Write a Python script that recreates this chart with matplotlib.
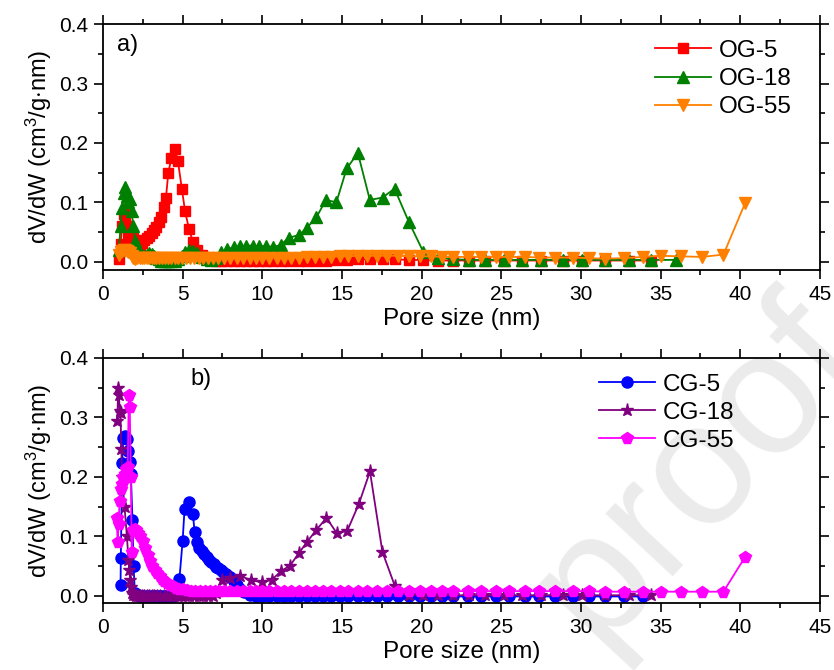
import matplotlib
matplotlib.use("Agg")
import matplotlib.pyplot as plt
from matplotlib.ticker import MultipleLocator

plt.rcParams['font.family'] = ['Liberation Sans', 'DejaVu Sans']
plt.rcParams['mathtext.fontset'] = 'custom'
plt.rcParams['mathtext.rm'] = 'Liberation Sans'
plt.rcParams['mathtext.it'] = 'Liberation Sans'

# pore size grid shared by OG-5 and OG-18 (nm)
og_size = [1.0, 1.1, 1.2, 1.3, 1.4, 1.5, 1.6, 1.7, 1.8, 1.9,
           2.0, 2.15, 2.3, 2.45, 2.6, 2.75, 2.9, 3.05, 3.2, 3.35,
           3.5, 3.65, 3.8, 3.95, 4.1, 4.3, 4.5, 4.7, 4.95, 5.15,
           5.4, 5.65, 5.9, 6.2, 6.5, 6.8, 7.1, 7.4, 7.8, 8.2,
           8.6, 9.0, 9.4, 9.8, 10.25, 10.7, 11.15, 11.65, 12.3, 12.8,
           13.4, 14.0, 14.65, 15.3, 16.0, 16.75, 17.55, 18.3, 19.2, 20.1,
           21.0, 22.0, 23.0, 24.0, 25.2, 26.3, 27.5, 28.9, 30.1, 31.5,
           33.0, 34.4, 36.0]

og5 = [0.005, 0.03, 0.06, 0.08, 0.075, 0.06, 0.045, 0.03, 0.045, 0.04,
       0.025, 0.02, 0.026, 0.032, 0.036, 0.04, 0.044, 0.048, 0.053, 0.058,
       0.066, 0.075, 0.092, 0.107, 0.15, 0.175, 0.19, 0.17, 0.123, 0.085,
       0.055, 0.033, 0.02, 0.012, 0.006, 0.003, 0.002, 0.001, 0.001, 0.001,
       0.001, 0.001, 0.001, 0.001, 0.001, 0.001, 0.001, 0.001, 0.001, 0.002,
       0.002, 0.002, 0.003, 0.003, 0.004, 0.004, 0.004, 0.004, 0.003, 0.003,
       0.002, 0.002, 0.002, 0.002, 0.002, 0.002, 0.002, 0.002, 0.002, 0.002,
       0.002, 0.002]

og18 = [0.02, 0.06, 0.09, 0.115, 0.125, 0.11, 0.10, 0.105, 0.085, 0.06,
        0.035, 0.02, 0.014, 0.012, 0.010, 0.012, 0.014, 0.013, 0.010, 0.006,
        0.004, 0.002, 0.001, 0.001, 0.001, 0.001, 0.002, 0.004, 0.010, 0.016,
        0.019, 0.018, 0.014, 0.008, 0.004, 0.003, 0.006, 0.016, 0.021, 0.024,
        0.026, 0.027, 0.027, 0.026, 0.026, 0.025, 0.028, 0.040, 0.045, 0.057,
        0.075, 0.104, 0.100, 0.157, 0.183, 0.104, 0.108, 0.123, 0.067, 0.017,
        0.007, 0.004, 0.003, 0.003, 0.003, 0.003, 0.003, 0.003, 0.003, 0.003,
        0.003, 0.003, 0.003]

og55_size = [1.0, 1.1, 1.2, 1.3, 1.4, 1.5, 1.6, 1.7, 1.8, 1.9,
             2.0, 2.15, 2.3, 2.45, 2.6, 2.75, 2.9, 3.05, 3.2, 3.35,
             3.5, 3.7, 3.9, 4.1, 4.3, 4.5, 4.7, 4.95, 5.2, 5.45,
             5.7, 6.0, 6.3, 6.6, 6.9, 7.2, 7.6, 8.0, 8.4, 8.8,
             9.2, 9.6, 10.0, 10.45, 10.9, 11.35, 11.8, 12.3, 12.8, 13.3,
             13.8, 14.3, 14.85, 15.4, 16.0, 16.6, 17.2, 17.8, 18.5, 19.2,
             19.9, 20.6, 21.3, 22.0, 22.9, 23.7, 24.7, 25.5, 26.5, 27.4,
             28.4, 29.5, 30.5, 31.5, 32.7, 33.9, 35.0, 36.3, 37.6, 38.95,
             40.3]

og55 = [0.012, 0.016, 0.018, 0.02, 0.02, 0.018, 0.016, 0.014, 0.010, 0.006,
        0.005, 0.006, 0.007, 0.007, 0.007, 0.007, 0.007, 0.007, 0.007, 0.007,
        0.007, 0.007, 0.007, 0.006, 0.006, 0.006, 0.006, 0.006, 0.006, 0.006,
        0.006, 0.006, 0.006, 0.007, 0.007, 0.007, 0.007, 0.007, 0.007, 0.007,
        0.007, 0.007, 0.007, 0.007, 0.007, 0.007, 0.007, 0.007, 0.008, 0.008,
        0.008, 0.008, 0.009, 0.009, 0.010, 0.010, 0.010, 0.010, 0.010, 0.009,
        0.009, 0.009, 0.008, 0.008, 0.008, 0.008, 0.008, 0.008, 0.008, 0.007,
        0.007, 0.007, 0.006, 0.005, 0.006, 0.008, 0.010, 0.009, 0.008, 0.012,
        0.098]

cg5_size = [1.1, 1.12, 1.2, 1.28, 1.4, 1.5, 1.6, 1.68, 1.75, 1.85,
            1.92, 2.0, 2.15, 2.3, 2.45, 2.6, 2.75, 2.9, 3.05, 3.2,
            3.35, 3.5, 3.65, 3.8, 3.95, 4.1, 4.25, 4.4, 4.55, 4.8,
            5.0, 5.12, 5.37, 5.64, 5.75, 5.9, 6.05, 6.2, 6.35, 6.5,
            6.65, 6.8, 6.95, 7.1, 7.25, 7.4, 7.55, 7.7, 7.85, 8.0,
            8.2, 8.4, 8.6, 8.85, 9.2, 9.6, 10.0, 10.45, 10.9, 11.35,
            11.8, 12.3, 12.8, 13.3, 13.8, 14.3, 14.85, 15.4, 16.0, 16.6,
            17.2, 17.8, 18.5, 19.2, 19.9, 20.6, 21.3, 22.0, 22.9, 23.7,
            24.7, 25.5, 26.5, 27.4, 28.4, 29.5, 30.5, 31.5, 32.7, 33.9]

cg5 = [0.018, 0.063, 0.224, 0.266, 0.268, 0.263, 0.243, 0.225, 0.205, 0.127,
       0.05, 0.004, 0.001, 0.0, 0.0, 0.0, 0.0, 0.0, 0.0, 0.0,
       0.0, 0.0, 0.0, 0.0, 0.0, 0.0, 0.0, 0.0, 0.002, 0.029,
       0.093, 0.146, 0.157, 0.138, 0.108, 0.09, 0.08, 0.075, 0.07, 0.065,
       0.061, 0.057, 0.053, 0.049, 0.046, 0.043, 0.04, 0.037, 0.034, 0.031,
       0.025, 0.019, 0.012, 0.006, 0.002, 0.0, -0.001, -0.001, -0.001, -0.001,
       -0.001, -0.001, -0.001, -0.001, -0.001, -0.001, -0.001, -0.001, -0.001, -0.001,
       -0.001, -0.001, -0.001, -0.001, -0.001, -0.001, -0.001, -0.001, -0.001, -0.001,
       -0.001, -0.001, -0.001, -0.001, -0.001, -0.001, -0.001, -0.001, -0.001, -0.001]

cg18_size = [0.9, 0.95, 1.0, 1.05, 1.1, 1.15, 1.2, 1.35, 1.5, 1.6,
             1.65, 1.7, 1.75, 1.8, 1.9, 2.0, 2.1, 2.2, 2.3, 2.45,
             2.6, 2.75, 2.9, 3.05, 3.2, 3.4, 3.6, 3.8, 4.0, 4.2,
             4.4, 4.65, 4.9, 5.15, 5.4, 5.7, 6.0, 6.3, 6.6, 6.9,
             7.1, 7.45, 8.0, 8.6, 9.3, 10.0, 10.6, 11.2, 11.75, 12.3,
             12.82, 13.4, 14.03, 14.66, 15.33, 16.07, 16.76, 17.54, 18.33, 19.2,
             20.1, 21.0, 22.0, 23.0, 24.0, 25.2, 26.3, 27.5, 28.9, 30.1,
             31.5, 33.0, 34.4]

cg18 = [0.293, 0.349, 0.338, 0.31, 0.307, 0.247, 0.2, 0.15, 0.1, 0.06,
        0.043, 0.027, 0.015, 0.005, 0.002, 0.001, 0.0, 0.0, 0.0, 0.0,
        0.0, 0.0, 0.0, 0.0, 0.0, 0.0, 0.0, 0.0, 0.0, 0.0,
        0.0, 0.0, 0.0, 0.0, 0.0, 0.0, 0.0, 0.0, 0.0, 0.0,
        0.005, 0.027, 0.03, 0.034, 0.026, 0.023, 0.027, 0.042, 0.051, 0.072,
        0.091, 0.111, 0.131, 0.106, 0.109, 0.155, 0.209, 0.074, 0.016, 0.002,
        0.001, 0.001, 0.001, 0.001, 0.001, 0.001, 0.001, 0.001, 0.001, 0.001,
        0.001, 0.001, 0.001]

cg55_size = [0.86, 0.92, 0.98, 1.04, 1.1, 1.17, 1.25, 1.35, 1.45, 1.55,
             1.62, 1.68, 1.75, 1.8, 1.9, 2.0, 2.1, 2.2, 2.35, 2.5,
             2.65, 2.8, 2.95, 3.1, 3.25, 3.4, 3.55, 3.7, 3.85, 4.0,
             4.2, 4.4, 4.6, 4.8, 5.0, 5.25, 5.5, 5.8, 6.1, 6.4,
             6.7, 7.0, 7.3, 7.6, 8.0, 8.4, 8.8, 9.2, 9.6, 10.0,
             10.45, 10.9, 11.35, 11.8, 12.3, 12.8, 13.3, 13.8, 14.3, 14.85,
             15.4, 16.0, 16.6, 17.2, 17.8, 18.5, 19.2, 19.9, 20.6, 21.3,
             22.0, 22.9, 23.7, 24.7, 25.5, 26.5, 27.4, 28.4, 29.5, 30.5,
             31.5, 32.7, 33.9, 35.0, 36.3, 37.6, 38.95, 40.3]

cg55 = [0.13, 0.09, 0.12, 0.16, 0.18, 0.188, 0.2, 0.205, 0.213, 0.216,
        0.338, 0.318, 0.2, 0.074, 0.11, 0.113, 0.11, 0.105, 0.1, 0.093,
        0.08, 0.068, 0.058, 0.05, 0.044, 0.038, 0.033, 0.029, 0.025, 0.022,
        0.019, 0.016, 0.014, 0.012, 0.011, 0.010, 0.009, 0.009, 0.008, 0.008,
        0.008, 0.008, 0.008, 0.008, 0.008, 0.008, 0.008, 0.008, 0.008, 0.008,
        0.008, 0.008, 0.008, 0.008, 0.008, 0.008, 0.008, 0.008, 0.008, 0.008,
        0.008, 0.008, 0.008, 0.008, 0.008, 0.008, 0.008, 0.008, 0.008, 0.008,
        0.008, 0.008, 0.008, 0.008, 0.008, 0.008, 0.008, 0.008, 0.008, 0.008,
        0.007, 0.007, 0.007, 0.007, 0.007, 0.007, 0.007, 0.065]

top_series = [(og_size, og5, 'OG-5', '#ff0000', 's', 7),
              (og_size, og18, 'OG-18', '#008000', '^', 8.5),
              (og55_size, og55, 'OG-55', '#ff8000', 'v', 8.5)]
bottom_series = [(cg5_size, cg5, 'CG-5', '#0000ff', 'o', 8),
                 (cg18_size, cg18, 'CG-18', '#800080', '*', 9.5),
                 (cg55_size, cg55, 'CG-55', '#ff00ff', 'p', 8.5)]

fig = plt.figure(figsize=(8.34, 6.70), dpi=100)
ax1 = fig.add_axes([0.1235, 0.597, 0.8595, 0.367])
ax2 = fig.add_axes([0.1235, 0.100, 0.8595, 0.366])

# faint watermark behind everything
fig.text(0.715, 0.035, 'proof', rotation=47, rotation_mode='anchor',
         fontsize=125, color='#ebebeb', ha='left', va='baseline', zorder=-10)

panels = [(ax1, top_series, -0.014, (0.985, 1.005)),
          (ax2, bottom_series, -0.012, (0.905, 1.005))]
for ax, series, ybot, leg_anchor in panels:
    ax.patch.set_alpha(0)
    for xs, ys, lab, col, mk, ms in series:
        ax.plot(xs[:len(ys)], ys, color=col, marker=mk, markersize=ms, lw=1.3, label=lab)
    ax.set_xlim(0, 45)
    ax.set_ylim(ybot, 0.4)
    ax.xaxis.set_major_locator(MultipleLocator(5))
    ax.xaxis.set_minor_locator(MultipleLocator(2.5))
    ax.yaxis.set_major_locator(MultipleLocator(0.1))
    ax.yaxis.set_minor_locator(MultipleLocator(0.05))
    ax.tick_params(which='both', direction='out', top=True, right=True, labelsize=15, width=1.2)
    ax.tick_params(which='major', length=6.5, pad=4)
    ax.tick_params(which='minor', length=3.5)
    for s in ax.spines.values():
        s.set_linewidth(1.3)
    ax.set_xlabel('Pore size (nm)', fontsize=17.5, labelpad=3)
    ax.set_ylabel('dV/dW (cm$^3$/g$\\cdot$nm)', fontsize=17, labelpad=4)
    ax.legend(loc='upper right', bbox_to_anchor=leg_anchor, frameon=False, fontsize=17.5,
              handlelength=2.3, borderaxespad=0.3, labelspacing=0.25, handletextpad=0.35)

ax1.text(0.9, 0.355, 'a)', fontsize=17)
ax2.text(5.5, 0.355, 'b)', fontsize=17)

fig.savefig('out.png', dpi=100)
